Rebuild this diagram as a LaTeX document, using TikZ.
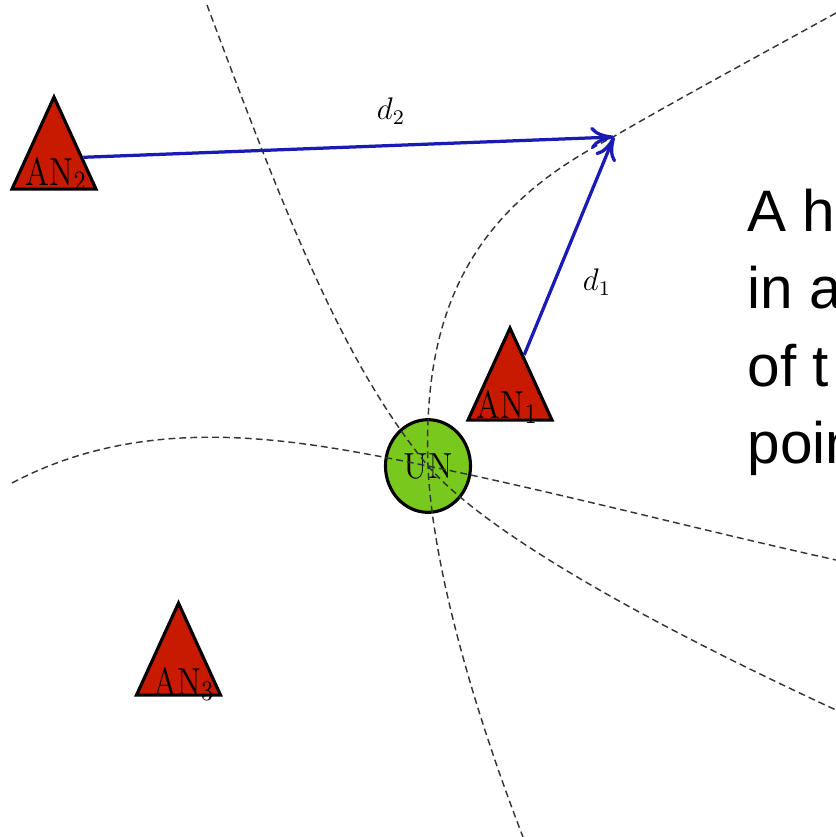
\documentclass[tikz,border=0pt]{standalone}
\usepackage{fontspec}
\newfontfamily\slidefont{Liberation Sans}
\usetikzlibrary{shapes.geometric,arrows.meta}
\definecolor{anred}{HTML}{C81A00}
\definecolor{ungreen}{HTML}{78C81E}
\definecolor{rangeblue}{HTML}{1A1AB4}
\definecolor{hypgray}{HTML}{333333}

\tikzset{
  anchornode/.style={regular polygon, regular polygon sides=3, minimum size=37.3pt,
    inner sep=0pt, draw=black, line width=1.2pt, fill=anred, transform shape, yscale=1.265},
  anlabel/.style={anchor=base, inner sep=0pt, font=\fontsize{12.5}{14}\selectfont,
    transform shape, yscale=1.2},
  usernode/.style={circle, minimum size=32.7pt, inner sep=0pt, draw=black, line width=1.2pt,
    fill=ungreen, font=\fontsize{12.8}{15}\selectfont, transform shape, yscale=1.09},
  hypcurve/.style={draw=hypgray, line width=0.55pt, dash pattern=on 2.6pt off 1.6pt},
  rangearrow/.style={draw=rangeblue, line width=1.25pt, -{To[length=9pt,width=8.5pt]}},
  rangelabel/.style={inner sep=0pt, font=\fontsize{12}{14}\selectfont},
  slidetext/.style={anchor=base west, inner sep=0pt, font=\slidefont\fontsize{22.5}{30}\selectfont}
}

\begin{document}
\begin{tikzpicture}[x=0.3846pt, y=-0.3846pt]
  \useasboundingbox (0,0) rectangle (836,837);
  \clip (0,0) rectangle (836,837);

  % anchor nodes and the unknown node
  \node[anchornode] (an1) at (510,389.4) {};
  \node[anchornode] (an2) at (54,158.4) {};
  \node[anchornode] (an3) at (178.5,664.4) {};
  \node[anlabel] (an1-l) at (507.5,418) {AN$_1$};
  \node[anlabel] (an2-l) at (56.5,185) {AN$_2$};
  \node[anlabel] (an3-l) at (184,695) {AN$_3$};
  \node[usernode] (un) at (428,466) {UN};

  % hyperbolas, all through UN
  \draw[hypcurve] (207,5) .. controls (280,200) and (340,360) .. (un.center)
    .. controls (480,526) and (620,610) .. (836,710);
  \draw[hypcurve] (12,483) .. controls (150,410) and (300,440) .. (un.center)
    .. controls (560,493) and (700,530) .. (836,560);
  \draw[hypcurve] (836,13) .. controls (760,55) and (680,98) .. (613,137)
    .. controls (480,205) and (422,300) .. (un.center)
    .. controls (432,560) and (470,700) .. (523,837);

  % ranges to the fix
  \coordinate (fix) at (614,137);
  \draw[rangearrow] (an2) -- (fix);
  \draw[rangearrow] (an1) -- (fix);
  \node[rangelabel] (d2) at (391,111) {$d_2$};
  \node[rangelabel] (d1) at (597,282) {$d_1$};

  % slide text, cut by the frame
  \node[slidetext] (line1) at (747,231) {A h};
  \node[slidetext] (line2) at (747,308.5) {in a};
  \node[slidetext] (line3) at (747,386) {of t};
  \node[slidetext] (line4) at (747,463.5) {poin};
\end{tikzpicture}
\end{document}
